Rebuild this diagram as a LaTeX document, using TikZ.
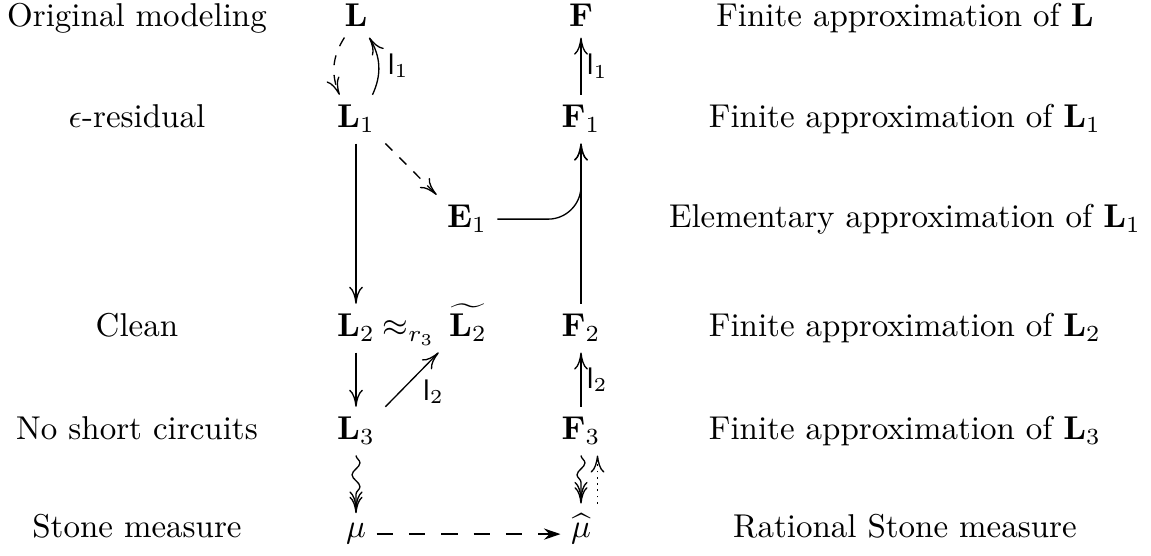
\documentclass[tikz,border=0pt]{standalone}
\usepackage{amsmath,amssymb}
\usetikzlibrary{arrows.meta,decorations.pathmorphing}
\begin{document}
\begin{tikzpicture}[x=0.30303pt,y=-0.30303pt,
  obj/.style={anchor=base,inner sep=3pt},
  lab/.style={anchor=base,inner sep=0pt},
  lbl/.style={font=\small,inner sep=1.5pt},
  cmto/.style={-{Computer Modern Rightarrow[length=5.2pt,width=4.2pt]}},
  twohead/.style={-{Computer Modern Rightarrow[length=5pt,width=4pt,sep=-3.4pt]Computer Modern Rightarrow[length=5pt,width=4pt]}},
  squig/.style={decorate,decoration={snake,amplitude=1.2pt,segment length=7.2pt,post length=4.5pt}},
  dotline/.style={dash pattern=on 0.5pt off 1.4pt},
  longdash/.style={dash pattern=on 5pt off 4.8pt},
]
\useasboundingbox (0,0) rectangle (1151,556);
% left texts
\node[lab] (t1) at (137,27) {Original modeling};
\node[lab] (t2) at (137,128) {$\epsilon$-residual};
\node[lab] (t4) at (137,337) {Clean};
\node[lab] (t5) at (137,440) {No short circuits};
\node[lab] (t6) at (137,538) {Stone measure};
% right texts
\node[lab] (r1) at (905,27) {Finite approximation of $\mathbf{L}$};
\node[lab] (r2) at (905,128) {Finite approximation of $\mathbf{L}_1$};
\node[lab] (r3) at (905,228) {Elementary approximation of $\mathbf{L}_1$};
\node[lab] (r4) at (905,337) {Finite approximation of $\mathbf{L}_2$};
\node[lab] (r5) at (905,440) {Finite approximation of $\mathbf{L}_3$};
\node[lab] (r6) at (905,538) {Rational Stone measure};
% math objects
\node[obj] (L) at (356,27) {$\mathbf{L}$};
\node[obj] (L1) at (356,128) {$\mathbf{L}_1$};
\node[obj] (E1) at (467,228) {$\mathbf{E}_1$};
\node[obj] (L2) at (356,337) {$\mathbf{L}_2$};
\node[lab] (apx) at (409,337) {$\approx_{r_3}$};
\node[obj] (L2t) at (468,337) {$\widetilde{\mathbf{L}_2}$};
\node[obj] (L3) at (356,440) {$\mathbf{L}_3$};
\node[obj] (mu) at (356,538) {$\mu$};
\node[obj] (F) at (581,27) {$\mathbf{F}$};
\node[obj] (F1) at (581,128) {$\mathbf{F}_1$};
\node[obj] (F2) at (581,337) {$\mathbf{F}_2$};
\node[obj] (F3) at (581,440) {$\mathbf{F}_3$};
\node[obj] (muh) at (581,538) {$\widehat{\mu}$};
% connectors
\draw[dashed,cmto] ([xshift=-3.5pt]L.south) to[bend right=28] ([xshift=-5pt]L1.north);
\draw[cmto] ([xshift=5pt]L1.north) to[bend right=28] node[lbl,right=1pt] {$\mathsf{l}_1$} ([xshift=4pt]L.south);
\draw[cmto] (F1.north) -- node[lbl,right] {$\mathsf{l}_1$} (F.south);
\draw[dashed,cmto] (L1.south east) -- (E1.north west);
\draw[cmto] (L1.south) -- (L2.north);
\draw[cmto,rounded corners=10pt] (E1.east) -| (F1.south);
\draw[cmto] (F2.north) -- (F1.south);
\draw[cmto] (L2.south) -- (L3.north);
\draw[cmto] (L3.north east) -- node[lbl,pos=0.6,below right] {$\mathsf{l}_2$} (L2t.south west);
\draw[cmto] (F3.north) -- node[lbl,right] {$\mathsf{l}_2$} (F2.south);
\draw[squig,twohead] (L3.south) -- (mu.north);
\draw[squig,twohead] (F3.south) -- (muh.north);
\draw[dotline,cmto] ([xshift=5pt]muh.north) -- ([xshift=5pt]F3.south);
\draw[longdash,-{Stealth[length=5pt,width=3.4pt]}] (mu.east) -- (mu.east -| muh.west);
\end{tikzpicture}
\end{document}
